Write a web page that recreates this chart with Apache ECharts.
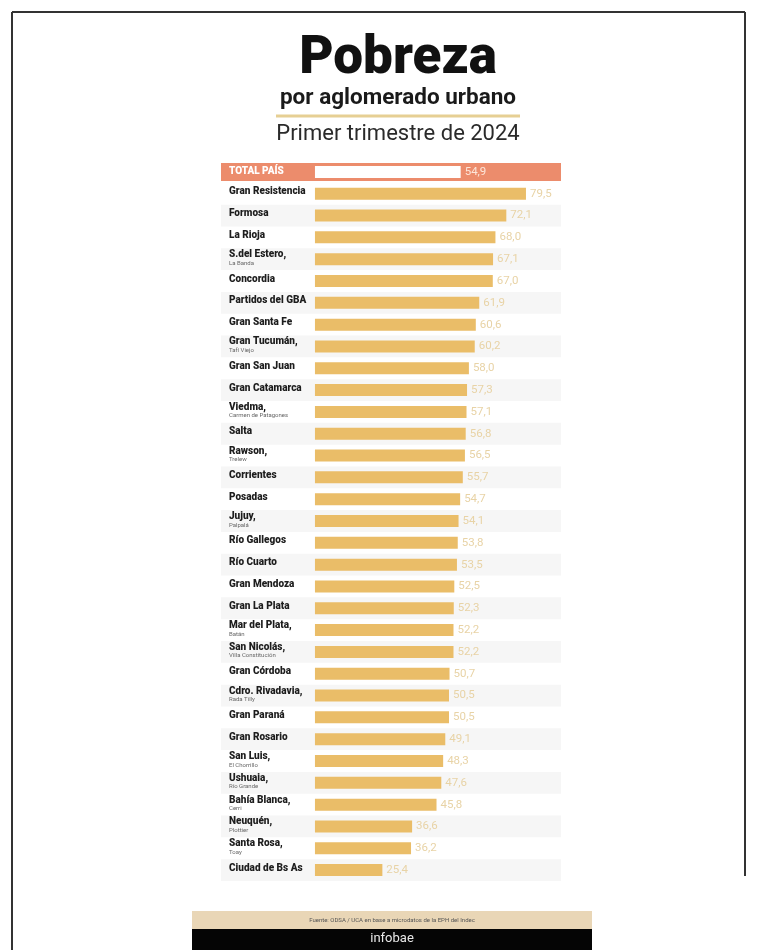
<!DOCTYPE html>
<html>
<head>
<meta charset="utf-8">
<script src="https://cdn.jsdelivr.net/npm/echarts@6/dist/echarts.min.js"></script>
<style>
html,body{margin:0;padding:0;background:#fff;}
#chart{width:757px;height:950px;}
</style>
</head>
<body>
<div id="chart"></div>
<script>
const categories = ['TOTAL PAÍS','Gran Resistencia','Formosa','La Rioja','S.del Estero,','Concordia','Partidos del GBA','Gran Santa Fe','Gran Tucumán,','Gran San Juan','Gran Catamarca','Viedma,','Salta','Rawson,','Corrientes','Posadas','Jujuy,','Río Gallegos','Río Cuarto','Gran Mendoza','Gran La Plata','Mar del Plata,','San Nicolás,','Gran Córdoba','Cdro. Rivadavia,','Gran Paraná','Gran Rosario','San Luis,','Ushuaia,','Bahía Blanca,','Neuquén,','Santa Rosa,','Ciudad de Bs As'];
const subLabels = ['','','','','La Banda','','','','Tafí Viejo','','','Carmen de Patagones','','Trelew','','','Palpalá','','','','','Batán','Villa Constitución','','Rada Tilly','','','El Chorrillo','Río Grande','Cerri','Plottier','Toay',''];
const values = [54.9,79.5,72.1,68.0,67.1,67.0,61.9,60.6,60.2,58.0,57.3,57.1,56.8,56.5,55.7,54.7,54.1,53.8,53.5,52.5,52.3,52.2,52.2,50.7,50.5,50.5,49.1,48.3,47.6,45.8,36.6,36.2,25.4];
const titleText = 'Pobreza';
const subtitleText = 'por aglomerado urbano';
const periodText = 'Primer trimestre de 2024';
const sourceText = 'Fuente: ODSA / UCA en base a microdatos de la EPH del Indec';
const brandText = 'infobae';

const chart = echarts.init(document.getElementById('chart'), null, {renderer:'canvas'});
const fmt = v => v.toFixed(1).replace('.', ',');

const labelRich = {
  t: {fontFamily: 'Roboto', fontWeight: 900, fontSize: 10, fill: '#ffffff', color: '#ffffff'},
  n: {fontFamily: 'Roboto', fontWeight: 900, fontSize: 10, fill: '#1d1d1d', color: '#1d1d1d', lineHeight: 10},
  s: {fontFamily: 'Roboto', fontSize: 6, fill: '#666666', color: '#666666', lineHeight: 7}
};

const option = {
  animation: false,
  backgroundColor: '#ffffff',
  grid: {left: 221, top: 161, width: 340, height: 720, containLabel: false},
  xAxis: {type: 'value', min: -35.4, max: 92.7, show: false},
  yAxis: {
    type: 'category', data: categories, inverse: true,
    axisLine: {show: false, onZero: false}, axisTick: {show: false}, splitLine: {show: false},
    axisLabel: {show: false}
  },
  series: [
    {
      type: 'custom', z: 1, silent: true,
      data: categories.map((c, i) => [0, i]),
      encode: {x: 0, y: 1},
      renderItem: function (params, api) {
        const idx = params.dataIndex;
        const cs = params.coordSys;
        const yc = api.coord([0, api.value(1)])[1];
        const band = api.size([0, 1])[1];
        const children = [];
        if (idx === 0) {
          children.push({type: 'rect', shape: {x: cs.x, y: yc - 9, width: cs.width, height: 18}, style: {fill: '#ec8c6c'}});
        } else if (idx % 2 === 0) {
          children.push({type: 'rect', shape: {x: cs.x, y: yc - band / 2, width: cs.width, height: band}, style: {fill: '#f6f6f6'}});
        }
        const name = categories[idx];
        const s = subLabels[idx];
        let txt;
        if (idx === 0) txt = '{t|' + name + '}';
        else txt = s ? '{n|' + name + '}\n{s|' + s + '}' : '{n|' + name + '}';
        children.push({
          type: 'text', x: cs.x + 8, y: s ? yc - 1 : (idx === 0 ? yc : yc - 2),
          style: {text: txt, rich: labelRich, align: 'left', verticalAlign: 'middle'}
        });
        return {type: 'group', children: children};
      }
    },
    {
      type: 'bar', z: 2, barWidth: 12,
      data: values.map((v, i) => i === 0
        ? {value: v, itemStyle: {color: '#ffffff'}, label: {color: '#fde6da'}}
        : v),
      itemStyle: {color: '#eabd68'},
      label: {
        show: true, position: 'right', distance: 4,
        fontFamily: 'Roboto', fontSize: 11.5, color: '#e8d3a6',
        formatter: p => fmt(p.value)
      }
    }
  ],
  graphic: [
    {type: 'line', shape: {x1: 12, y1: 12, x2: 745, y2: 12}, style: {stroke: '#333', lineWidth: 2}},
    {type: 'line', shape: {x1: 12, y1: 12, x2: 12, y2: 950}, style: {stroke: '#333', lineWidth: 2}},
    {type: 'line', shape: {x1: 745, y1: 12, x2: 745, y2: 876}, style: {stroke: '#333', lineWidth: 2}},
    {type: 'text', x: 398, y: 60, style: {text: titleText, fontFamily: 'Roboto', fontWeight: 900, fontSize: 53, fill: '#111', align: 'center', verticalAlign: 'middle'}},
    {type: 'text', x: 398, y: 98, style: {text: subtitleText, fontFamily: 'Roboto', fontWeight: 'bold', fontSize: 22.5, fill: '#1a1a1a', align: 'center', verticalAlign: 'middle'}},
    {type: 'line', shape: {x1: 276, y1: 116, x2: 520, y2: 116}, style: {stroke: '#e6cf94', lineWidth: 3}},
    {type: 'text', x: 398, y: 134, style: {text: periodText, fontFamily: 'Roboto', fontSize: 22, fill: '#2a2a2a', align: 'center', verticalAlign: 'middle'}},
    {type: 'rect', shape: {x: 192, y: 911, width: 400, height: 18}, style: {fill: '#e9d6b6'}},
    {type: 'text', x: 392, y: 920, style: {text: sourceText, fontFamily: 'Roboto', fontSize: 6, fill: '#555', align: 'center', verticalAlign: 'middle'}},
    {type: 'rect', shape: {x: 192, y: 929, width: 400, height: 21}, style: {fill: '#050505'}},
    {type: 'text', x: 392, y: 939, style: {text: brandText, fontFamily: 'Roboto', fontSize: 13, fill: '#e8e8e8', align: 'center', verticalAlign: 'middle'}}
  ]
};
chart.setOption(option);
</script>
</body>
</html>
